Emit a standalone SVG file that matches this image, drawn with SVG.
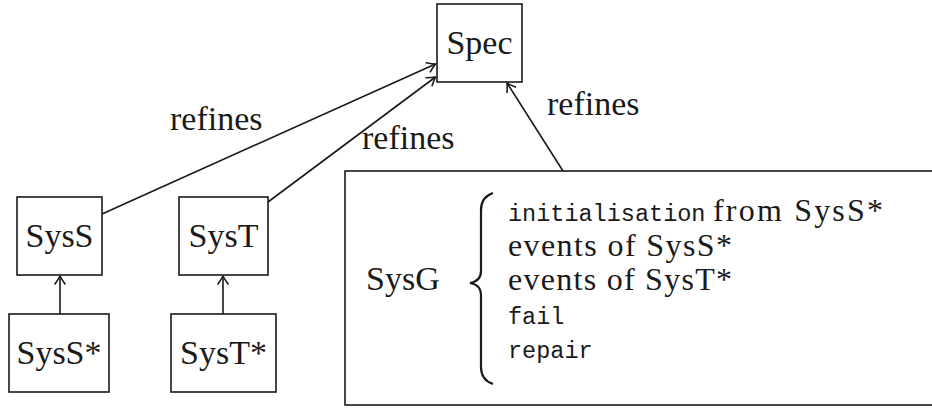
<svg xmlns="http://www.w3.org/2000/svg" width="932" height="408" viewBox="0 0 932 408">
<style>
.box{fill:#fff;stroke:#1a1a1a;stroke-width:1.6}
.t{font-family:'Liberation Serif','DejaVu Serif',serif;font-size:34px;fill:#1a1a1a}
.l{font-family:'Liberation Serif','DejaVu Serif',serif;font-size:32px;fill:#1a1a1a}
.m{font-family:'Liberation Mono','DejaVu Sans Mono',monospace;font-size:23.5px;fill:#1a1a1a}
.c{text-anchor:middle}
.ln{stroke:#1a1a1a;stroke-width:1.6;fill:none}
</style>
<defs>
<marker id="ah" viewBox="-10 -6 12 12" refX="0" refY="0" markerWidth="12" markerHeight="12" markerUnits="userSpaceOnUse" orient="auto">
<path d="M -8 -5 Q -3 -1.5 0 0 Q -3 1.5 -8 5" fill="none" stroke="#1a1a1a" stroke-width="1.6" stroke-linecap="round" stroke-linejoin="round"/>
</marker>
</defs>
<g id="connectors">
<line class="ln" x1="102" y1="214" x2="435.5" y2="64" marker-end="url(#ah)"/>
<line class="ln" x1="268" y1="202" x2="435.5" y2="77" marker-end="url(#ah)"/>
<line class="ln" x1="563" y1="171" x2="507" y2="83" marker-end="url(#ah)"/>
<line class="ln" x1="60" y1="314" x2="60" y2="276" marker-end="url(#ah)"/>
<line class="ln" x1="223" y1="314" x2="223" y2="276" marker-end="url(#ah)"/>
<text class="t" x="170" y="130">refines</text>
<text class="t" x="362" y="149">refines</text>
<text class="t" x="547" y="115">refines</text>
</g>
<g id="spec">
<rect class="box" x="437" y="4" width="85" height="78"/>
<text class="t c" x="479.5" y="54">Spec</text>
</g>
<g id="syss">
<rect class="box" x="17" y="197" width="85" height="78"/>
<text class="t c" x="59.5" y="247">SysS</text>
</g>
<g id="syst">
<rect class="box" x="179" y="197" width="89" height="78"/>
<text class="t c" x="223.5" y="247">SysT</text>
</g>
<g id="syss-star">
<rect class="box" x="9" y="314" width="100" height="78"/>
<text class="t c" x="59" y="364">SysS*</text>
</g>
<g id="syst-star">
<rect class="box" x="171" y="314" width="105" height="78"/>
<text class="t c" x="223.5" y="364">SysT*</text>
</g>
<g id="sysg">
<rect class="box" x="345" y="171" width="600" height="234"/>
<text class="t" x="366" y="290">SysG</text>
<path d="M 493 193 Q 481 197 481 210 L 481 271 Q 481 281 470 283 Q 481 285 481 295 L 481 367 Q 481 380 493 384" fill="none" stroke="#1a1a1a" stroke-width="2.2"/>
<text class="m" x="508" y="221">initialisation</text>
<text class="l" x="713" y="221" textLength="170" lengthAdjust="spacing">from SysS*</text>
<text class="l" x="508" y="256" textLength="224" lengthAdjust="spacing">events of SysS*</text>
<text class="l" x="508" y="290" textLength="224" lengthAdjust="spacing">events of SysT*</text>
<text class="m" x="508" y="324">fail</text>
<text class="m" x="508" y="358">repair</text>
</g>
</svg>
